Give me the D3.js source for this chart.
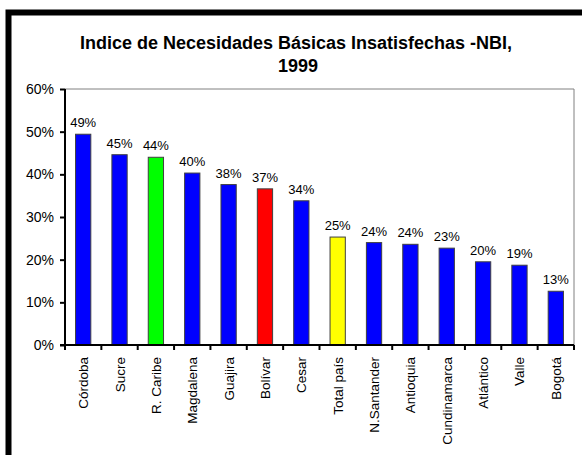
<!DOCTYPE html>
<html>
<head>
<meta charset="utf-8">
<script src="https://cdn.jsdelivr.net/npm/d3@7"></script>
<style>
  body { margin: 0; background: #fff; }
  text { font-family: "Liberation Sans", Arial, sans-serif; }
</style>
</head>
<body>
<div id="chart"></div>
<script>
// data
var categories = ["Córdoba", "Sucre", "R. Caribe", "Magdalena", "Guajira", "Bolívar", "Cesar",
  "Total país", "N.Santander", "Antioquia", "Cundinamarca", "Atlántico", "Valle", "Bogotá"];
var values = [49.4, 44.6, 44.0, 40.3, 37.6, 36.6, 33.8, 25.3, 24.0, 23.6, 22.7, 19.5, 18.7, 12.6];
var barColors = ["#0000ff", "#0000ff", "#00ff00", "#0000ff", "#0000ff", "#ff0000", "#0000ff",
  "#ffff00", "#0000ff", "#0000ff", "#0000ff", "#0000ff", "#0000ff", "#0000ff"];
var yTicks = [0, 10, 20, 30, 40, 50, 60];

var width = 582, height = 455;
var pLeft = 65, pRight = 574, pTop = 89, pBottom = 345;

var svg = d3.select('#chart').append('svg')
  .attr('width', width)
  .attr('height', height);

// outer frame (cut at right and bottom)
svg.append('rect')
  .attr('x', 8.5).attr('y', 12.5)
  .attr('width', 600).attr('height', 500)
  .attr('fill', 'none').attr('stroke', '#000').attr('stroke-width', 6);

svg.append('text')
  .attr('x', 296).attr('y', 49)
  .attr('text-anchor', 'middle')
  .attr('font-size', 18).attr('font-weight', 'bold')
  .text('Indice de Necesidades Básicas Insatisfechas -NBI,');
svg.append('text')
  .attr('x', 298).attr('y', 72)
  .attr('text-anchor', 'middle')
  .attr('font-size', 18).attr('font-weight', 'bold')
  .text('1999');

var x = d3.scaleBand().domain(categories).range([pLeft, pRight]).paddingInner(0.58).paddingOuter(0.29);
var y = d3.scaleLinear().domain([0, 60]).range([pBottom, pTop]);

// plot frame (top and right, gray)
svg.append('path')
  .attr('d', 'M' + pLeft + ',' + pTop + 'H' + pRight + 'V' + pBottom)
  .attr('fill', 'none').attr('stroke', '#808080').attr('stroke-width', 1);

svg.selectAll('.bar').data(values).enter().append('rect')
  .attr('class', 'bar')
  .attr('x', function(d, i) { return x(categories[i]); })
  .attr('y', function(d) { return y(d); })
  .attr('width', x.bandwidth())
  .attr('height', function(d) { return pBottom - y(d); })
  .attr('fill', function(d, i) { return barColors[i]; })
  .attr('stroke', '#404040').attr('stroke-width', 1);

svg.selectAll('.lbl').data(values).enter().append('text')
  .attr('class', 'lbl')
  .attr('x', function(d, i) { return x(categories[i]) + x.bandwidth() / 2; })
  .attr('y', function(d) { return y(d) - 7; })
  .attr('text-anchor', 'middle')
  .attr('font-size', 13)
  .attr('fill', '#000')
  .text(function(d) { return Math.round(d) + '%'; });

// y axis
var yAxis = svg.append('g')
  .attr('transform', 'translate(' + pLeft + ',0)')
  .call(d3.axisLeft(y).tickValues(yTicks).tickSize(5).tickPadding(6)
    .tickFormat(function(d) { return d + '%'; }));
yAxis.select('.domain').attr('stroke-width', 2).attr('d', 'M0,' + pTop + 'V' + (pBottom + 1));
yAxis.selectAll('.tick line').attr('stroke-width', 2);
yAxis.selectAll('text').attr('font-size', 14).attr('font-family', '"Liberation Sans", Arial, sans-serif').attr('fill', '#000');

// x axis with ticks between categories
var bounds = d3.range(categories.length + 1).map(function(i) { return pLeft + i * x.step(); });
var xg = svg.append('g');
xg.append('line')
  .attr('x1', pLeft - 5).attr('x2', pRight)
  .attr('y1', pBottom).attr('y2', pBottom)
  .attr('stroke', '#000').attr('stroke-width', 2);
xg.selectAll('.xt').data(bounds).enter().append('line')
  .attr('x1', function(d) { return d; }).attr('x2', function(d) { return d; })
  .attr('y1', pBottom).attr('y2', pBottom + 5)
  .attr('stroke', '#000').attr('stroke-width', 2);

svg.selectAll('.xl').data(categories).enter().append('text')
  .attr('class', 'xl')
  .attr('transform', function(d) {
    return 'translate(' + (x(d) + x.bandwidth() / 2 + 5) + ',' + (pBottom + 12) + ') rotate(-90)';
  })
  .attr('text-anchor', 'end')
  .attr('font-size', 13.5)
  .text(function(d) { return d; });
</script>
</body>
</html>
